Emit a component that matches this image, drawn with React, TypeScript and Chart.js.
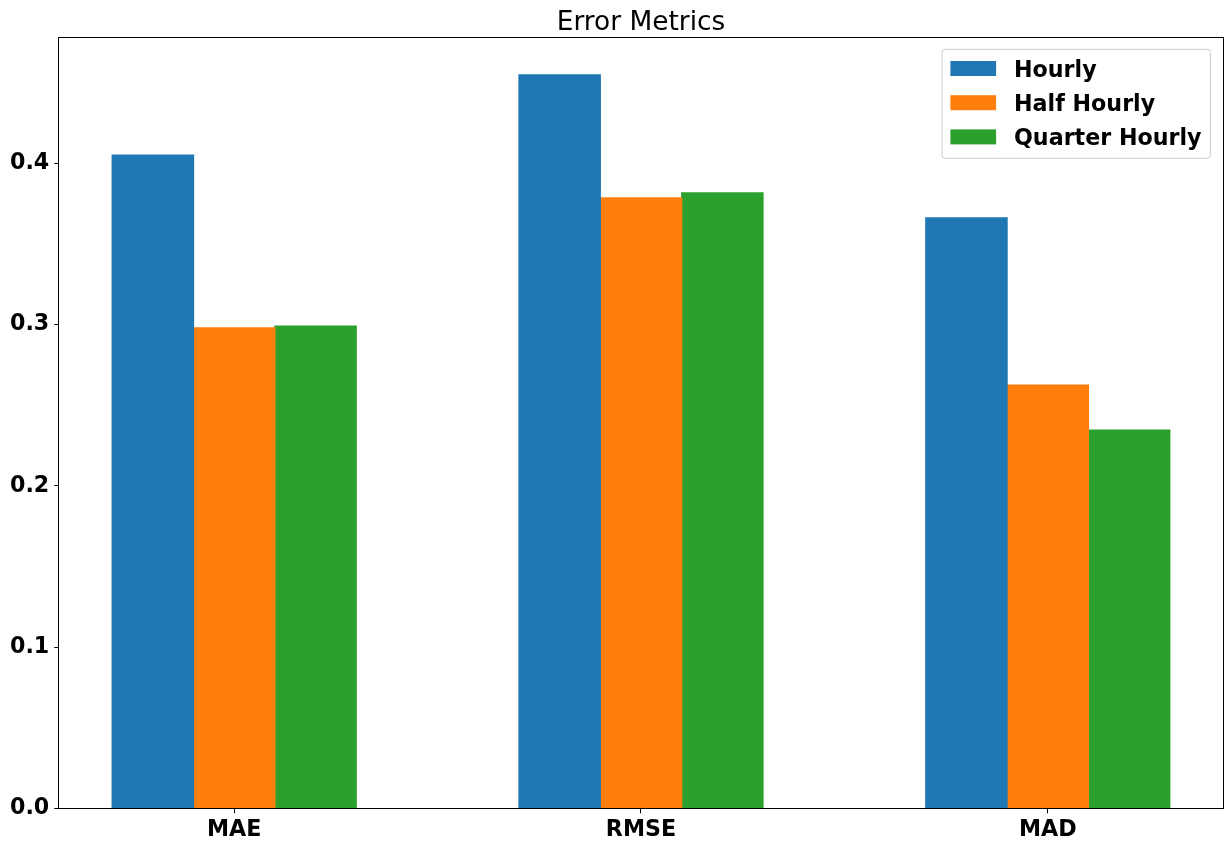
import React, { useEffect, useRef } from "react";
import { Chart, registerables } from "chart.js";

Chart.register(...registerables);

const categories = ["MAE", "RMSE", "MAD"];
const seriesNames = ["Hourly", "Half Hourly", "Quarter Hourly"];
const hourly = [0.405, 0.4548, 0.3661];
const halfHourly = [0.2979, 0.3785, 0.2625];
const quarterHourly = [0.2991, 0.3816, 0.2346];
const yTicks = [0, 0.1, 0.2, 0.3, 0.4];
const colors = ["#1f77b4", "#ff7f0e", "#2ca02c"];
const titleText = "Error Metrics";

const FONT = "DejaVu Sans";
const TICK_SIZE = 22.2;

const framePlugin = {
  id: "frameTitleLegend",
  afterDraw(chart: any) {
    const ctx = chart.ctx;
    const a = chart.chartArea;
    ctx.save();
    // frame
    ctx.strokeStyle = "#000";
    ctx.lineWidth = 1;
    ctx.strokeRect(Math.round(a.left) - 0.5, Math.round(a.top) - 0.5, Math.round(a.right) - Math.round(a.left) + 1, Math.round(a.bottom) - Math.round(a.top) + 1);
    // title
    ctx.fillStyle = "#000";
    ctx.font = `26.4px "${FONT}"`;
    ctx.textAlign = "center";
    ctx.textBaseline = "alphabetic";
    ctx.fillText(titleText, (a.left + a.right) / 2, 30);
    // legend
    const bx = a.right - 12.3;
    const lx = bx - 268.4;
    const ly = a.top + 11;
    const lh = 109;
    ctx.beginPath();
    const r = 3;
    const w = bx - lx;
    ctx.moveTo(lx + r, ly);
    ctx.lineTo(lx + w - r, ly);
    ctx.quadraticCurveTo(lx + w, ly, lx + w, ly + r);
    ctx.lineTo(lx + w, ly + lh - r);
    ctx.quadraticCurveTo(lx + w, ly + lh, lx + w - r, ly + lh);
    ctx.lineTo(lx + r, ly + lh);
    ctx.quadraticCurveTo(lx, ly + lh, lx, ly + lh - r);
    ctx.lineTo(lx, ly + r);
    ctx.quadraticCurveTo(lx, ly, lx + r, ly);
    ctx.closePath();
    ctx.fillStyle = "rgba(255,255,255,0.8)";
    ctx.fill();
    ctx.strokeStyle = "#cccccc";
    ctx.stroke();
    ctx.font = `bold ${TICK_SIZE}px "${FONT}"`;
    ctx.textAlign = "left";
    ctx.textBaseline = "alphabetic";
    chart.data.datasets.forEach((ds: any, i: number) => {
      const cy = ly + 19.2 + i * 34.2;
      ctx.fillStyle = ds.backgroundColor;
      ctx.fillRect(lx + 8.4, cy - 7.5, 45.7, 15);
      ctx.fillStyle = "#000";
      ctx.fillText(ds.label, lx + 72, cy + 8);
    });
    ctx.restore();
  },
};

export default function App() {
  const ref = useRef<HTMLCanvasElement>(null);
  useEffect(() => {
    if (!ref.current) return;
    const mk = (vals: number[]) => vals.map((v, i) => ({ x: i, y: v }));
    const chart = new Chart(ref.current, {
      type: "bar",
      data: {
        datasets: [
          { label: seriesNames[0], data: mk(hourly), backgroundColor: colors[0] },
          { label: seriesNames[1], data: mk(halfHourly), backgroundColor: colors[1] },
          { label: seriesNames[2], data: mk(quarterHourly), backgroundColor: colors[2] },
        ] as any,
      },
      options: {
        animation: false,
        responsive: false,
        devicePixelRatio: 1,
        layout: { padding: { top: 38.3, right: 8.3, left: 0, bottom: 0 } },
        datasets: { bar: { categoryPercentage: 0.6, barPercentage: 1.0, borderWidth: 0, inflateAmount: 0.6 } } as any,
        plugins: { legend: { display: false }, title: { display: false }, tooltip: { enabled: false } },
        scales: {
          x: {
            type: "linear",
            min: -0.43,
            max: 2.43,
            offset: false,
            afterBuildTicks: (s: any) => {
              s.ticks = categories.map((_, i) => ({ value: i }));
            },
            afterFit: (s: any) => {
              s.height = 42.7;
            },
            grid: { display: true, drawOnChartArea: false, drawTicks: true, tickLength: 5, color: "#000", offset: false },
            border: { display: false },
            ticks: {
              color: "#000",
              padding: 4,
              maxRotation: 0,
              autoSkip: false,
              font: { family: FONT, size: TICK_SIZE, weight: "bold" },
              callback: (v: any) => categories[Math.round(Number(v))] ?? "",
            },
          },
          y: {
            type: "linear",
            min: 0,
            max: 0.4775,
            afterBuildTicks: (s: any) => {
              s.ticks = yTicks.map((v) => ({ value: v }));
            },
            afterFit: (s: any) => {
              s.width = 59.3;
            },
            grid: { display: true, drawOnChartArea: false, drawTicks: true, tickLength: 5, color: "#000" },
            border: { display: false },
            ticks: {
              color: "#000",
              padding: 5,
              font: { family: FONT, size: TICK_SIZE, weight: "bold" },
              callback: (v: any) => Number(v).toFixed(1),
            },
          },
        },
      } as any,
      plugins: [framePlugin],
    });
    return () => chart.destroy();
  }, []);
  return (
    <div style={{ position: "absolute", left: 0, top: 0, width: 1231, height: 851, background: "#fff" }}>
      <canvas ref={ref} width={1231} height={851} style={{ display: "block" }} />
    </div>
  );
}
